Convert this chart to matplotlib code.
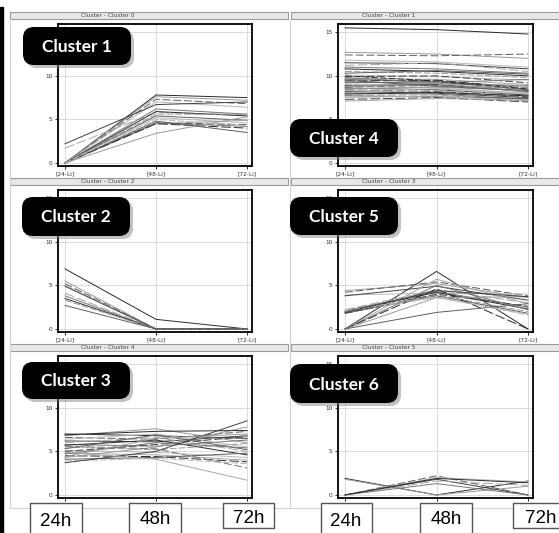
import matplotlib.pyplot as plt
from matplotlib.patches import Rectangle, FancyBboxPatch

W, H = 559, 533

time_ticks = ["[24-Li]", "[48-Li]", "[72-Li]"]
time_labels = ["24h", "48h", "72h"]
panel_titles = ["Cluster - Cluster 0", "Cluster - Cluster 1", "Cluster - Cluster 2",
                "Cluster - Cluster 3", "Cluster - Cluster 4", "Cluster - Cluster 5"]
cluster_names = ["Cluster 1", "Cluster 4", "Cluster 2", "Cluster 5", "Cluster 3", "Cluster 6"]

# profiles: value at 24h, 48h, 72h
cluster_0 = [
    [0, 7.8, 7.5], [0, 7.6, 7.2], [0, 7.3, 6.8], [0, 7.0, 6.4], [2.2, 6.7, 7.0],
    [1.7, 5.8, 5.5], [0, 6.2, 5.6], [0, 5.9, 5.4], [0, 5.6, 5.6], [0, 5.4, 4.9],
    [0, 5.2, 4.6], [0, 4.6, 4.4], [0, 4.5, 4.9], [0, 4.6, 4.2], [0, 4.5, 4.0],
    [0, 3.4, 5.3], [0, 4.8, 3.5], [0, 5.0, 4.3],
]
cluster_1 = [
    [15.5, 15.3, 14.8], [12.7, 12.5, 12.0], [12.4, 12.3, 12.5], [11.8, 11.6, 11.0],
    [11.5, 11.4, 10.8], [11.2, 11.5, 10.5], [11.0, 10.8, 10.3], [10.8, 10.5, 10.0],
    [10.5, 10.3, 9.8], [10.3, 10.6, 10.2], [10.1, 9.9, 9.5], [9.9, 10.0, 9.2],
    [9.7, 9.6, 9.0], [9.6, 9.3, 8.8], [9.4, 9.5, 8.6], [9.3, 9.1, 8.9],
    [9.2, 9.3, 8.4], [9.0, 8.8, 8.7], [8.9, 9.0, 8.2], [8.8, 8.6, 8.0],
    [8.7, 8.9, 8.5], [8.6, 8.4, 7.8], [8.5, 8.7, 8.3], [8.4, 8.2, 7.6],
    [8.3, 8.5, 8.0], [8.2, 8.0, 7.5], [8.1, 8.3, 7.9], [8.0, 7.9, 7.3],
    [7.9, 8.1, 7.7], [7.8, 7.8, 7.2], [7.7, 7.6, 7.4], [7.5, 7.7, 7.1],
    [7.3, 7.5, 7.0], [7.1, 7.4, 7.2], [9.8, 9.2, 9.6], [10.0, 9.4, 8.5],
    [8.8, 9.2, 8.1], [9.5, 8.8, 8.3],
]
cluster_2 = [
    [6.9, 1.1, 0], [5.5, 0, 0], [5.2, 0, 0], [5.0, 0, 0], [4.9, 0, 0],
    [4.1, 0, 0], [3.8, 0, 0], [3.5, 0, 0], [3.3, 0, 0], [2.7, 0, 0],
]
cluster_3 = [
    [0, 6.6, 0], [4.4, 5.2, 3.6], [4.2, 5.4, 3.8], [3.9, 4.1, 4.0], [3.8, 4.9, 3.3],
    [2.2, 4.5, 3.0], [2.1, 4.3, 2.5], [2.0, 4.2, 2.3], [1.9, 3.9, 2.0], [1.8, 3.8, 1.8],
    [2.0, 3.6, 1.7], [1.8, 4.0, 2.6], [0, 5.7, 2.9], [0, 5.0, 2.2], [0, 4.6, 0],
    [0, 3.6, 3.7], [0, 1.9, 2.9], [2.1, 3.7, 1.6], [1.9, 4.4, 3.7],
]
cluster_4 = [
    [7.0, 6.8, 6.5], [6.8, 7.6, 6.0], [6.6, 6.4, 7.3], [6.4, 7.0, 5.5], [6.2, 6.1, 6.8],
    [6.0, 6.6, 5.0], [5.8, 5.6, 6.3], [5.7, 6.3, 4.6], [5.5, 5.2, 5.9], [5.3, 6.9, 5.2],
    [5.1, 4.9, 4.3], [5.0, 5.8, 6.7], [4.8, 4.6, 4.0], [4.7, 6.0, 5.4], [4.5, 4.4, 3.8],
    [4.3, 5.5, 7.8], [4.1, 4.3, 4.8], [3.9, 4.2, 3.6], [3.7, 5.0, 8.5], [4.9, 4.1, 1.7],
    [5.6, 5.3, 3.1], [6.9, 7.3, 7.4], [4.4, 6.5, 7.0],
]
cluster_5 = [
    [1.9, 0, 1.6], [1.8, 0, 1.0], [0, 2.2, 0], [0, 2.0, 1.5],
    [0, 1.8, 0], [0, 1.6, 1.1], [0, 1.3, 0], [0, 1.9, 1.4],
]
clusters = [cluster_0, cluster_1, cluster_2, cluster_3, cluster_4, cluster_5]

line_colors = ["#2a2a2a", "#9a9a9a", "#5e5e5e", "#b8b8b8", "#404040", "#a6a6a6", "#767676"]
line_dashes = [None, None, (8, 3), None, None, (10, 3), None, None, (7, 2)]


def fig_rect(x0, y0, x1, y1):
    return [x0 / W, 1 - y1 / H, (x1 - x0) / W, (y1 - y0) / H]


fig = plt.figure(figsize=(W / 100, H / 100), dpi=100)

# background: panel frames and title bars
bg = fig.add_axes([0, 0, 1, 1])
bg.set_xlim(0, W)
bg.set_ylim(H, 0)
bg.axis("off")
bg.add_patch(Rectangle((0, 7), 3, H - 7, color="black"))
bar_lefts = [10, 291]
bar_rights = [288, 562]
row_tops = [12, 178, 344]
for r in range(3):
    for c in range(2):
        y = row_tops[r]
        bg.add_patch(Rectangle((bar_lefts[c], y), bar_rights[c] - bar_lefts[c], 7,
                               facecolor="#e8e8e8", edgecolor="#9a9a9a", lw=0.8))
        bg.text(bar_lefts[c] + 98, y + 3.8, panel_titles[r * 2 + c], fontsize=4.2,
                color="#444444", ha="center", va="center")
bg.plot([9.5, 9.5], [19, 508], color="#d4d4d4", lw=0.8)
bg.plot([289.5, 289.5], [19, 508], color="#d4d4d4", lw=0.8)
bg.plot([9.5, W], [508, 508], color="#d4d4d4", lw=0.8)

ax_lefts = [58, 338]
ax_rights = [252, 533]
ax_tops = [24, 190, 356]
for i, data in enumerate(clusters):
    r, c = divmod(i, 2)
    ax = fig.add_axes(fig_rect(ax_lefts[c], ax_tops[r], ax_rights[c], ax_tops[r] + 142))
    for k, prof in enumerate(data):
        dash = line_dashes[k % len(line_dashes)]
        ln, = ax.plot([0, 1, 2], prof, color=line_colors[k % len(line_colors)], lw=0.7)
        if dash is not None:
            ln.set_dashes(dash)
    ax.set_xlim(-0.077, 2.055)
    ax.set_ylim(-0.35, 15.95)
    ax.set_xticks([0, 1, 2])
    ax.set_xticklabels(time_ticks)
    ax.set_yticks([0, 5, 10, 15])
    ax.grid(True, color="#d6d6d6", lw=0.6)
    ax.set_axisbelow(True)
    ax.tick_params(labelsize=4.2, labelcolor="#333333", length=2.5, width=0.6, pad=1.5)
    for s in ax.spines.values():
        s.set_linewidth(1.3)
        s.set_color("black")

# overlay: cluster labels and time boxes
ov = fig.add_axes([0, 0, 1, 1])
ov.set_xlim(0, W)
ov.set_ylim(H, 0)
ov.axis("off")
name_boxes = [(23, 27, 131, 65), (290, 119, 398, 157), (22, 197, 130, 236),
              (290, 197, 398, 235), (22, 362, 130, 399), (290, 364, 398, 403)]
for (x0, y0, x1, y1), name in zip(name_boxes, cluster_names):
    ov.add_patch(FancyBboxPatch((x0 + 3, y0 + 3), x1 - x0, y1 - y0,
                                boxstyle="round,pad=0,rounding_size=11",
                                facecolor="#777777", edgecolor="none", alpha=0.45))
    ov.add_patch(FancyBboxPatch((x0, y0), x1 - x0, y1 - y0,
                                boxstyle="round,pad=0,rounding_size=11",
                                facecolor="black", edgecolor="none"))
    ov.text((x0 + x1) / 2, (y0 + y1) / 2 + 1, name, color="white", fontsize=12.5,
            fontweight="bold", family="Lato", ha="center", va="center")

time_boxes = [(30, 82, 540), (129, 181, 540), (223, 274, 528),
              (321, 372, 540), (420, 472, 540), (513, 562, 528)]
time_text_pos = [(56, 521.5), (155, 520), (249, 518.5),
                 (346, 521.5), (446, 520), (541, 518.5)]
for k, ((x0, x1, y1), (tx, ty)) in enumerate(zip(time_boxes, time_text_pos)):
    ov.add_patch(Rectangle((x0, 503), x1 - x0, y1 - 503, facecolor="white",
                           edgecolor="#555555", lw=1.0))
    ov.text(tx, ty, time_labels[k % 3], fontsize=13.5, family="Liberation Sans",
            ha="center", va="center", color="black")

fig.savefig("out.png", dpi=100)
